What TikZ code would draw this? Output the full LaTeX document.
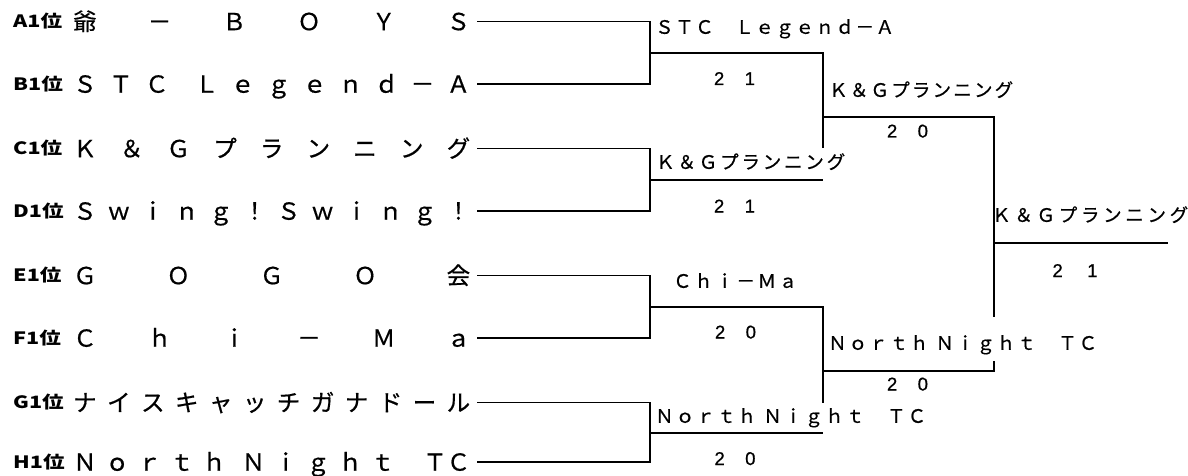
\documentclass[tikz,border=0pt]{standalone}
\usepackage{fontspec}
\usepackage{graphicx}
\setmainfont{Noto Sans CJK JP}
\newfontfamily\jpf[FakeBold=0.6]{Noto Sans CJK JP}
\newfontfamily\jpbold{Noto Sans CJK JP}
\newfontfamily\numf[FakeBold=0.8]{Liberation Sans}
\newcommand{\teamfont}{\jpf\fontsize{23.5pt}{26pt}\selectfont}
\newcommand{\labfont}{\jpf\fontsize{18.5pt}{20pt}\selectfont}
\newcommand{\prefont}{\jpbold\bfseries\fontsize{17pt}{20pt}\selectfont}
\newcommand{\scfont}{\numf\fontsize{18.5pt}{20pt}\selectfont}
\newcommand{\tm}[1]{\makebox[397pt][s]{#1}}
\newcommand{\pre}[1]{\scalebox{1.27}[1]{#1}}
\tikzset{
  teamname/.style={anchor=base west, inner sep=0pt, font=\teamfont},
  seedtag/.style={anchor=base west, inner sep=0pt, font=\prefont},
  winlab/.style={anchor=base west, inner sep=0pt, font=\labfont},
  scorelab/.style={anchor=base, inner sep=0pt, font=\scfont},
  wire/.style={line width=1.6pt, line join=miter}
}
\begin{document}
\begin{tikzpicture}[x=1pt,y=-1pt]
\useasboundingbox (0,0) rectangle (1188,476);
% seed tags
\node[seedtag] (pA) at (13,27.8) {\pre{A1位}};
\node[seedtag] (pB) at (13,90.3) {\pre{B1位}};
\node[seedtag] (pC) at (13,154.8) {\pre{C1位}};
\node[seedtag] (pD) at (13,217.3) {\pre{D1位}};
\node[seedtag] (pE) at (13,281.8) {\pre{E1位}};
\node[seedtag] (pF) at (13,344.3) {\pre{F1位}};
\node[seedtag] (pG) at (13,408.8) {\pre{G1位}};
\node[seedtag] (pH) at (13,468.3) {\pre{H1位}};
% team names
\node[teamname] (tA) at (73,30.2) {\tm{爺\hfill －\hfill Ｂ\hfill Ｏ\hfill Ｙ\hfill Ｓ}};
\node[teamname] (tB) at (73,92.7) {\tm{Ｓ\hfill Ｔ\hfill Ｃ\hfill\hspace{14pt}Ｌ\hfill ｅ\hfill ｇ\hfill ｅ\hfill ｎ\hfill ｄ\hfill －\hfill Ａ}};
\node[teamname] (tC) at (73,157.2) {\tm{Ｋ\hfill ＆\hfill Ｇ\hfill プ\hfill ラ\hfill ン\hfill ニ\hfill ン\hfill グ}};
\node[teamname] (tD) at (73,219.7) {\tm{Ｓ\hfill ｗ\hfill ｉ\hfill ｎ\hfill ｇ\hfill ！\hfill Ｓ\hfill ｗ\hfill ｉ\hfill ｎ\hfill ｇ\hfill ！}};
\node[teamname] (tE) at (73,284.2) {\tm{Ｇ\hfill Ｏ\hfill Ｇ\hfill Ｏ\hfill 会}};
\node[teamname] (tF) at (73,346.7) {\tm{Ｃ\hfill ｈ\hfill ｉ\hfill －\hfill Ｍ\hfill ａ}};
\node[teamname] (tG) at (73,411.2) {\tm{ナ\hfill イ\hfill ス\hfill キ\hfill ャ\hfill ッ\hfill チ\hfill ガ\hfill ナ\hfill ド\hfill ー\hfill ル}};
\node[teamname] (tH) at (73,470.7) {\tm{Ｎ\hfill ｏ\hfill ｒ\hfill ｔ\hfill ｈ\hfill\hspace{7pt}Ｎ\hfill ｉ\hfill ｇ\hfill ｈ\hfill ｔ\hfill\hspace{20pt}ＴＣ}};
% line start points
\coordinate (rA) at (477,21.5);
\coordinate (rB) at (477,84);
\coordinate (rC) at (477,148.5);
\coordinate (rD) at (477,211);
\coordinate (rE) at (477,275.5);
\coordinate (rF) at (477,338);
\coordinate (rG) at (477,402.5);
\coordinate (rH) at (477,462);
% round 1 junctions
\coordinate (jAB) at (650,53);
\coordinate (jCD) at (650,180);
\coordinate (jEF) at (650,307);
\coordinate (jGH) at (650,433);
\coordinate (kAB) at (823,53);
\coordinate (kCD) at (823,180);
\coordinate (kEF) at (823,307);
\coordinate (kGH) at (823,433);
\coordinate (gT) at (823,148);
\coordinate (gB) at (823,403);
% round 2
\coordinate (q1) at (823,117);
\coordinate (q2) at (823,371);
\coordinate (f1) at (994,117);
\coordinate (f2) at (994,371);
\coordinate (fT) at (994,317);
\coordinate (fB) at (994,361);
\coordinate (fin) at (994,243);
\coordinate (champ) at (1168,243);
% wires
\draw[wire] (rA) -| (jAB) |- (rB);
\draw[wire] (rC) -| (jCD) |- (rD);
\draw[wire] (rE) -| (jEF) |- (rF);
\draw[wire] (rG) -| (jGH) |- (rH);
\draw[wire] (jAB) -- (kAB) -- (gT);
\draw[wire] (jCD) -- (kCD);
\draw[wire] (jEF) -- (kEF) -- (gB);
\draw[wire] (jGH) -- (kGH);
\draw[wire] (q1) -- (f1) -- (fT);
\draw[wire] (q2) -- (f2) -- (fB);
\draw[wire] (fin) -- (champ);
% winner labels
\node[winlab] (w1) at (655,33.8) {\makebox[239pt][s]{Ｓ\hfill Ｔ\hfill Ｃ\hfill　\hfill Ｌ\hfill ｅ\hfill ｇ\hfill ｅ\hfill ｎ\hfill ｄ\hfill －\hfill Ａ}};
\node[winlab] (w2) at (656,168.8) {\makebox[189pt][s]{Ｋ\hfill ＆\hfill Ｇ\hfill プ\hfill ラ\hfill ン\hfill ニ\hfill ン\hfill グ}};
\node[winlab] (w3) at (829,96.8) {\makebox[184pt][s]{Ｋ\hfill ＆\hfill Ｇ\hfill プ\hfill ラ\hfill ン\hfill ニ\hfill ン\hfill グ}};
\node[winlab] (w4) at (992,221.8) {\makebox[196pt][s]{Ｋ\hfill ＆\hfill Ｇ\hfill プ\hfill ラ\hfill ン\hfill ニ\hfill ン\hfill グ}};
\node[winlab] (w5) at (673,287.8) {\makebox[124pt][s]{Ｃ\hfill ｈ\hfill ｉ\hfill －\hfill Ｍ\hfill ａ}};
\node[winlab] (w6) at (655,422.8) {\makebox[271pt][s]{Ｎ\hfill ｏ\hfill ｒ\hfill ｔ\hfill ｈ\hfill\hspace{5pt}Ｎ\hfill ｉ\hfill ｇ\hfill ｈ\hfill ｔ\hfill　\hfill Ｔ\hfill Ｃ}};
\node[winlab] (w7) at (828,349.8) {\makebox[269pt][s]{Ｎ\hfill ｏ\hfill ｒ\hfill ｔ\hfill ｈ\hfill\hspace{5pt}Ｎ\hfill ｉ\hfill ｇ\hfill ｈ\hfill ｔ\hfill　\hfill Ｔ\hfill Ｃ}};
% scores
\node[scorelab] (s1) at (734.5,85) {\makebox[41pt][s]{2\hfill 1}};
\node[scorelab] (s2) at (734.5,212.5) {\makebox[41pt][s]{2\hfill 1}};
\node[scorelab] (s3) at (735.5,338.5) {\makebox[41pt][s]{2\hfill 0}};
\node[scorelab] (s4) at (735,465) {\makebox[41pt][s]{2\hfill 0}};
\node[scorelab] (s5) at (907.5,137.5) {\makebox[41pt][s]{2\hfill 0}};
\node[scorelab] (s6) at (907.5,390.5) {\makebox[41pt][s]{2\hfill 0}};
\node[scorelab] (s7) at (1075,277) {\makebox[45pt][s]{2\hfill 1}};
\end{tikzpicture}
\end{document}
